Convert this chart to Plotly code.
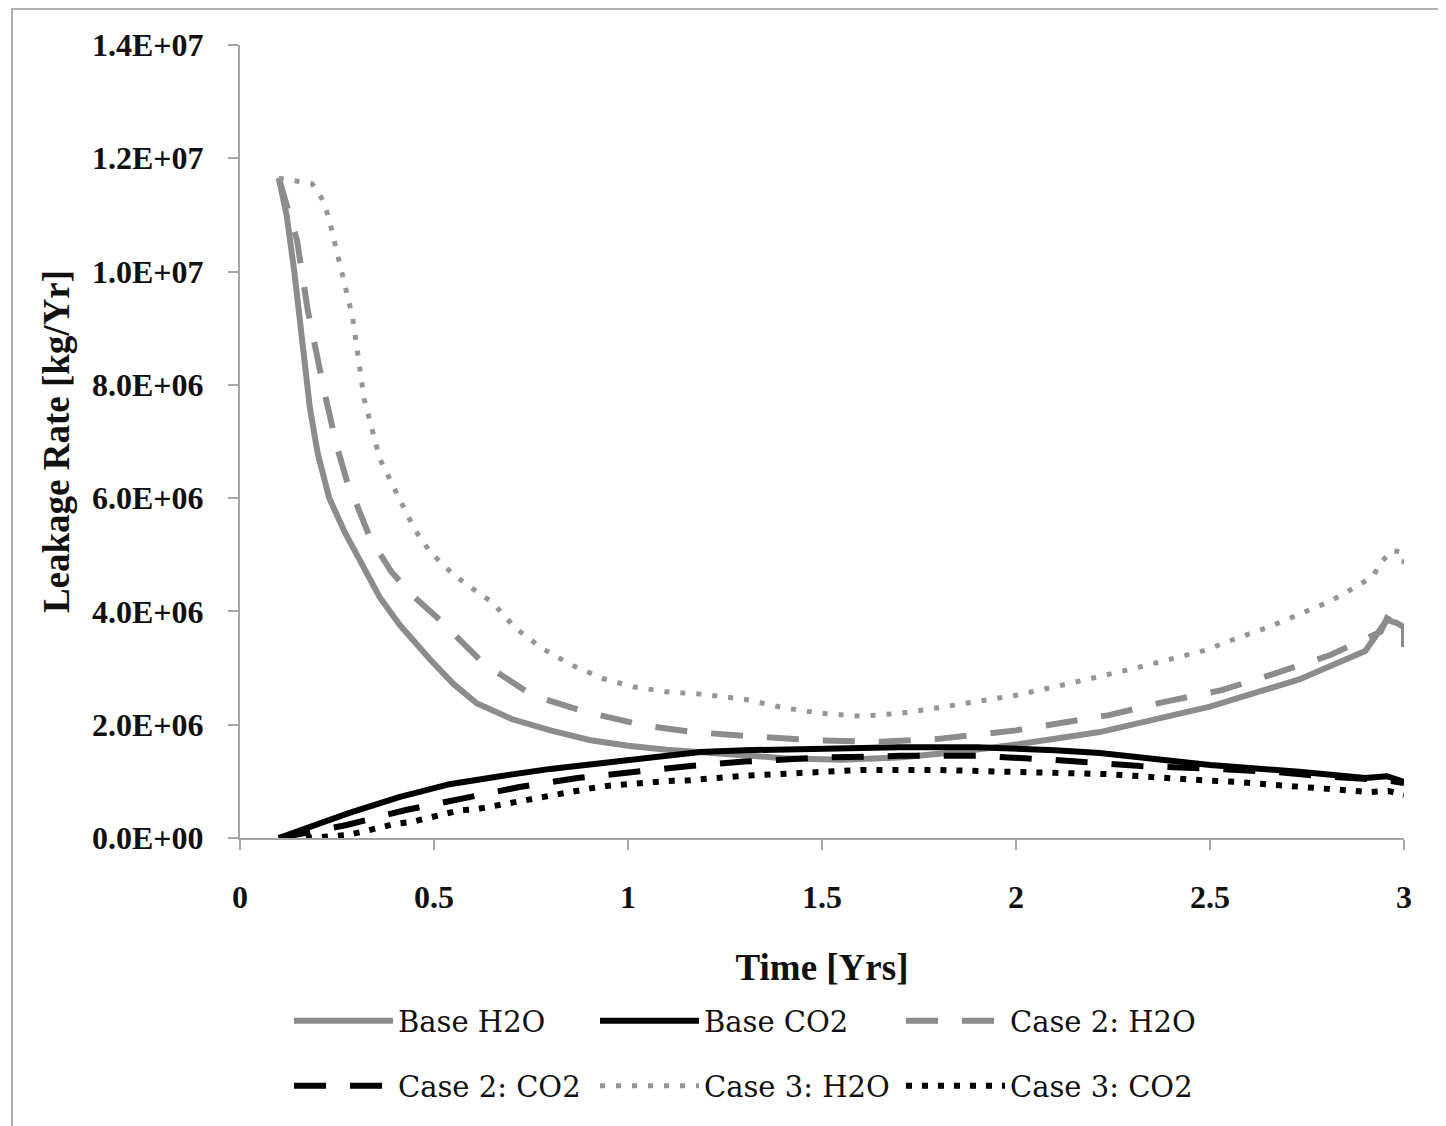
import plotly.graph_objects as go

# ---------------- data ----------------
t_base_h2o = [0.10, 0.12, 0.14, 0.163, 0.18, 0.20, 0.23, 0.27, 0.31, 0.36, 0.413, 0.45, 0.49, 0.55,
              0.61, 0.70, 0.80, 0.90, 1.00, 1.10, 1.186, 1.30, 1.40, 1.55, 1.70, 1.85, 2.00,
              2.216, 2.50, 2.73, 2.90, 2.956, 2.98, 3.00, 3.00]
v_base_h2o = [11.65, 11.0, 10.0, 8.6, 7.6, 6.8, 6.0, 5.4, 4.9, 4.25, 3.75, 3.45, 3.15, 2.72,
              2.38, 2.1, 1.9, 1.73, 1.63, 1.56, 1.52, 1.45, 1.41, 1.38, 1.42, 1.52, 1.65,
              1.87, 2.32, 2.8, 3.3, 3.85, 3.8, 3.72, 3.37]

t_base_co2 = [0.10, 0.155, 0.28, 0.41, 0.54, 0.67, 0.80, 0.93, 1.057, 1.186, 1.30, 1.50, 1.70,
              1.90, 2.00, 2.10, 2.216, 2.50, 2.73, 2.90, 2.956, 3.00]
v_base_co2 = [0.0, 0.14, 0.44, 0.72, 0.95, 1.09, 1.22, 1.32, 1.43, 1.52, 1.55, 1.58, 1.60,
              1.60, 1.58, 1.55, 1.50, 1.29, 1.17, 1.06, 1.09, 0.99]

t_case2_h2o = [0.10, 0.12, 0.147, 0.175, 0.20, 0.22, 0.25, 0.28, 0.30, 0.335, 0.39, 0.45, 0.515,
               0.626, 0.753, 0.894, 1.039, 1.168, 1.35, 1.50, 1.65, 1.80, 2.00,
               2.10, 2.24, 2.38, 2.53, 2.67, 2.81, 2.94, 2.956, 3.00]
v_case2_h2o = [11.65, 11.2, 10.55, 9.3, 8.4, 7.8, 6.9, 6.2, 5.9, 5.3, 4.7, 4.25, 3.85,
               3.09, 2.52, 2.22, 1.99, 1.87, 1.78, 1.72, 1.70, 1.75, 1.90,
               2.02, 2.17, 2.40, 2.61, 2.91, 3.23, 3.64, 3.88, 3.72]

t_case2_co2 = [0.10, 0.275, 0.425, 0.575, 0.72, 0.87, 1.013, 1.16, 1.30, 1.50, 1.70, 1.90, 2.10,
               2.32, 2.51, 2.66, 2.81, 2.95, 3.00]
v_case2_co2 = [0.0, 0.23, 0.49, 0.70, 0.90, 1.06, 1.17, 1.27, 1.35, 1.42, 1.45, 1.45, 1.38,
               1.27, 1.22, 1.17, 1.08, 1.02, 0.97]

t_case3_h2o = [0.10, 0.147, 0.186, 0.21, 0.224, 0.235, 0.245, 0.255, 0.265, 0.276, 0.29, 0.32,
               0.36, 0.41, 0.45, 0.49, 0.55, 0.60, 0.652, 0.709, 0.778, 0.856, 0.933, 1.013,
               1.10, 1.186, 1.30, 1.40, 1.50, 1.60, 1.70, 1.80, 1.90, 2.00, 2.12, 2.24, 2.32,
               2.40, 2.49, 2.57, 2.65, 2.73, 2.81, 2.88, 2.92, 2.94, 2.97, 3.00, 3.00]
v_case3_h2o = [11.65, 11.6, 11.55, 11.3, 11.05, 10.77, 10.5, 10.2, 9.9, 9.62, 9.2, 7.75,
               6.7, 6.0, 5.45, 5.05, 4.65, 4.4, 4.15, 3.71, 3.35, 3.05, 2.82, 2.67,
               2.58, 2.54, 2.45, 2.3, 2.2, 2.15, 2.2, 2.3, 2.42, 2.52, 2.7, 2.88, 3.02,
               3.16, 3.32, 3.53, 3.72, 3.95, 4.18, 4.45, 4.62, 4.86, 5.08, 5.03, 4.73]

t_case3_co2 = [0.17, 0.23, 0.275, 0.315, 0.36, 0.40, 0.44, 0.485, 0.53, 0.567, 0.61, 0.65, 0.696,
               0.735, 0.778, 0.82, 0.863, 0.907, 0.946, 0.987, 1.03, 1.07, 1.116, 1.16, 1.30,
               1.50, 1.60, 1.80, 2.00, 2.10, 2.23, 2.31, 2.40, 2.48, 2.57, 2.65, 2.74, 2.83,
               2.91, 2.96, 3.00]
v_case3_co2 = [0.0, 0.02, 0.05, 0.11, 0.18, 0.25, 0.28, 0.35, 0.41, 0.49, 0.51, 0.56, 0.62,
               0.69, 0.74, 0.79, 0.85, 0.88, 0.92, 0.95, 0.97, 0.99, 1.01, 1.02, 1.10,
               1.17, 1.20, 1.20, 1.18, 1.15, 1.13, 1.09, 1.06, 1.02, 0.99, 0.95, 0.92, 0.87,
               0.81, 0.83, 0.76]

series_names = ["Base H2O", "Base CO2", "Case 2: H2O", "Case 2: CO2", "Case 3: H2O", "Case 3: CO2"]

y_tickvals = [0, 2e6, 4e6, 6e6, 8e6, 10e6, 12e6, 14e6]
y_ticktext = ["0.0E+00", "2.0E+06", "4.0E+06", "6.0E+06", "8.0E+06", "1.0E+07", "1.2E+07", "1.4E+07"]
x_tickvals = [0, 0.5, 1, 1.5, 2, 2.5, 3]
x_ticktext = ["0", "0.5", "1", "1.5", "2", "2.5", "3"]

SCALE = 1e6

GRAY = "rgb(140,140,140)"
LGRAY = "rgb(150,150,150)"
BLACK = "rgb(0,0,0)"

styles = [
    dict(color=GRAY, width=6, dash="solid"),
    dict(color=BLACK, width=6, dash="solid"),
    dict(color=GRAY, width=6, dash="32px,24px"),
    dict(color=BLACK, width=6, dash="32px,24px"),
    dict(color=LGRAY, width=5, dash="5px,11px"),
    dict(color=BLACK, width=6, dash="6px,10px"),
]
xs = [t_base_h2o, t_base_co2, t_case2_h2o, t_case2_co2, t_case3_h2o, t_case3_co2]
ys = [v_base_h2o, v_base_co2, v_case2_h2o, v_case2_co2, v_case3_h2o, v_case3_co2]
legend_ids = ["legend", "legend", "legend", "legend2", "legend2", "legend2"]

fig = go.Figure()
for name, x, y, st, lg in zip(series_names, xs, ys, styles, legend_ids):
    fig.add_trace(go.Scatter(
        x=x, y=[v * SCALE for v in y], mode="lines", name=name,
        line=dict(color=st["color"], width=st["width"], dash=st["dash"]),
        legend=lg,
    ))

# page body adds an 8px offset; work in screen pixels and convert
OFF = 8
W, H = 1446 - OFF, 1126 - OFF
PX0, PX1 = 240, 1404     # screen x of plot left/right
PY0, PY1 = 45, 838       # screen y of plot top/bottom
L, R = PX0 - OFF, W - (PX1 - OFF)
T, B = PY0 - OFF, H - (PY1 - OFF)
pw, ph = PX1 - PX0, PY1 - PY0

def px_x(p):
    return (p - PX0) / pw

def px_y(p):
    return (PY1 - p) / ph

tick_font = dict(family="Liberation Serif", size=32, color="#111111", weight="bold")
title_font = dict(family="Liberation Serif", size=37, color="#111111", weight="bold")
leg_font = dict(family="DejaVu Serif", size=29, color="#111111")

IW = 99
EW = 192

fig.update_layout(
    width=W, height=H,
    margin=dict(l=L, r=R, t=T, b=B, autoexpand=False),
    paper_bgcolor="white", plot_bgcolor="white",
    xaxis=dict(
        range=[0, 3], tickvals=x_tickvals, ticktext=x_ticktext,
        showgrid=False, zeroline=False, showline=True, linecolor="#a6a6a6", linewidth=2,
        ticks="outside", ticklen=10, tickwidth=2, tickcolor="#a6a6a6",
        tickfont=tick_font, ticklabelstandoff=20, automargin=False,
        title=dict(text="Time [Yrs]", font=title_font, standoff=40),
    ),
    yaxis=dict(
        range=[0, 1.4e7], tickvals=y_tickvals, ticktext=y_ticktext,
        showgrid=False, zeroline=False, showline=True, linecolor="#a6a6a6", linewidth=2,
        ticks="outside", ticklen=10, tickwidth=2, tickcolor="#a6a6a6",
        tickfont=tick_font, ticklabelstandoff=18, automargin=False,
        title=dict(text="Leakage Rate [kg/Yr]", font=title_font, standoff=11),
    ),
    legend=dict(orientation="h", x=px_x(289), xanchor="left", y=px_y(1021), yanchor="middle",
                font=leg_font, entrywidth=EW, entrywidthmode="pixels",
                itemwidth=IW, bgcolor="rgba(0,0,0,0)"),
    legend2=dict(orientation="h", x=px_x(289), xanchor="left", y=px_y(1086), yanchor="middle",
                 font=leg_font, entrywidth=EW, entrywidthmode="pixels",
                 itemwidth=IW, bgcolor="rgba(0,0,0,0)"),
    showlegend=True,
)

# outer chart frame (left and top edges visible in the reference)
fig.add_shape(type="rect", xref="paper", yref="paper",
              x0=px_x(12), x1=px_x(1500), y0=px_y(1200), y1=px_y(9),
              line=dict(color="#b0b0b0", width=2), fillcolor="rgba(0,0,0,0)", layer="below")

fig.write_html("out.html")
